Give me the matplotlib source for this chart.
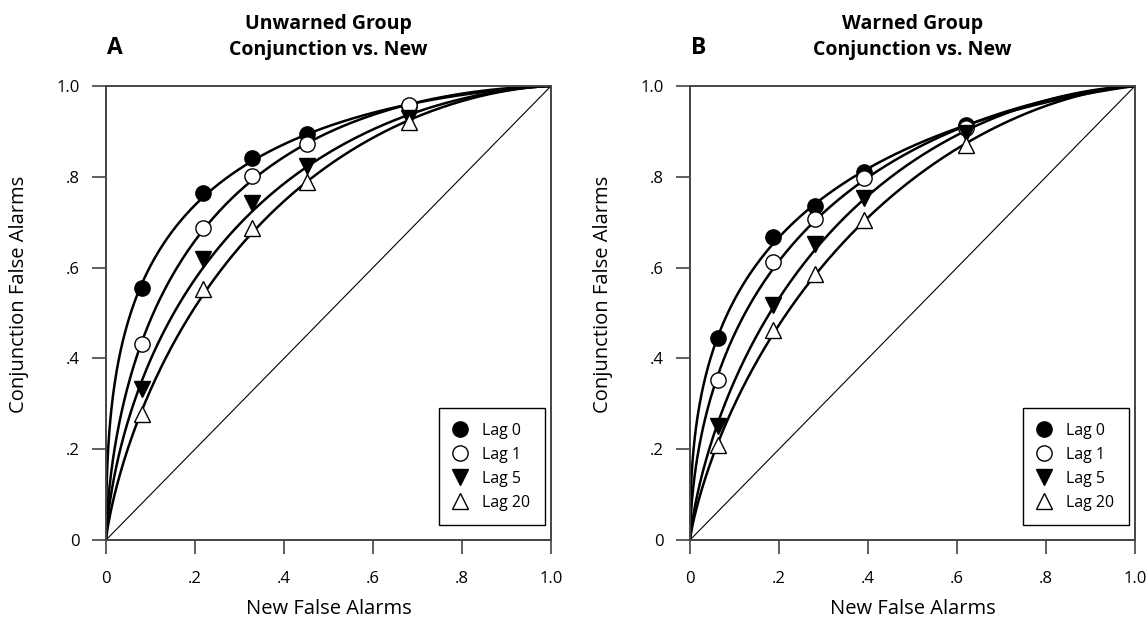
import matplotlib
matplotlib.use("Agg")
import matplotlib.pyplot as plt
import numpy as np
from statistics import NormalDist

plt.rcParams['font.family'] = ['Open Sans', 'DejaVu Sans']

# ---- data ----
lags = ["Lag 0", "Lag 1", "Lag 5", "Lag 20"]

# Panel A: Unwarned group
new_fa_A = [0.082, 0.219, 0.329, 0.451, 0.680]
conj_fa_A_lag0 = [0.554, 0.765, 0.841, 0.895, 0.957]
conj_fa_A_lag1 = [0.432, 0.688, 0.802, 0.872, 0.958]
conj_fa_A_lag5 = [0.332, 0.618, 0.743, 0.824, 0.930]
conj_fa_A_lag20 = [0.278, 0.552, 0.687, 0.789, 0.921]

# Panel B: Warned group
new_fa_B = [0.064, 0.186, 0.280, 0.391, 0.620]
conj_fa_B_lag0 = [0.444, 0.667, 0.736, 0.811, 0.913]
conj_fa_B_lag1 = [0.352, 0.613, 0.706, 0.798, 0.907]
conj_fa_B_lag5 = [0.251, 0.518, 0.653, 0.753, 0.896]
conj_fa_B_lag20 = [0.209, 0.463, 0.587, 0.705, 0.869]

tick_vals = [0, 0.2, 0.4, 0.6, 0.8, 1.0]
tick_labels = ["0", ".2", ".4", ".6", ".8", "1.0"]

titles = ["Unwarned Group\nConjunction vs. New", "Warned Group\nConjunction vs. New"]
panel_letters = ["A", "B"]

markers = ['o', 'o', 'v', '^']
faces = ['black', 'white', 'black', 'white']

nd = NormalDist()


def zroc_fit(xs, ys):
    zx = np.array([nd.inv_cdf(v) for v in xs])
    zy = np.array([nd.inv_cdf(v) for v in ys])
    b, a = np.polyfit(zx, zy, 1)
    return a, b


def zroc_curve(a, b, n=400):
    xs = np.concatenate([np.geomspace(1e-6, 0.05, 150), np.linspace(0.05, 1 - 1e-6, n)])
    ys = np.array([nd.cdf(a + b * nd.inv_cdf(v)) for v in xs])
    xs = np.concatenate([[0], xs, [1]])
    ys = np.concatenate([[0], ys, [1]])
    return xs, ys


fig = plt.figure(figsize=(11.48, 6.33), dpi=100)
ax_w = 445 / 1148
ax_h = 454 / 633
axA = fig.add_axes([106 / 1148, 93 / 633, ax_w, ax_h])
axB = fig.add_axes([690 / 1148, 93 / 633, ax_w, ax_h])

panels = [
    (axA, new_fa_A, [conj_fa_A_lag0, conj_fa_A_lag1, conj_fa_A_lag5, conj_fa_A_lag20]),
    (axB, new_fa_B, [conj_fa_B_lag0, conj_fa_B_lag1, conj_fa_B_lag5, conj_fa_B_lag20]),
]

for i, (ax, xs, series) in enumerate(panels):
    ax.plot([0, 1], [0, 1], color='black', lw=0.8, zorder=1)
    for ys in series:
        a, b = zroc_fit(xs, ys)
        cx, cy = zroc_curve(a, b)
        ax.plot(cx, cy, color='black', lw=1.8, zorder=2)
    for j, ys in enumerate(series):
        ax.plot(xs, ys, linestyle='none', marker=markers[j], markersize=11,
                markerfacecolor=faces[j], markeredgecolor='black', markeredgewidth=1.0,
                label=lags[j], zorder=3, clip_on=False)
    ax.set_xlim(0, 1)
    ax.set_ylim(0, 1)
    ax.set_xticks(tick_vals)
    ax.set_xticklabels(tick_labels)
    ax.set_yticks(tick_vals)
    ax.set_yticklabels(tick_labels)
    ax.tick_params(axis='both', direction='out', length=10, width=1.2, labelsize=12,
                   color='#444444')
    ax.tick_params(axis='x', pad=12)
    ax.tick_params(axis='y', pad=9)
    for sp in ax.spines.values():
        sp.set_color('#444444')
        sp.set_linewidth(1.4)
    ax.set_xlabel("New False Alarms", fontsize=14.5)
    ax.xaxis.set_label_coords(0.5, -0.13)
    ax.set_ylabel("Conjunction False Alarms", fontsize=14.5)
    ax.yaxis.set_label_coords(-0.172, 0.54)
    ax.set_title(titles[i], fontsize=14, fontweight='bold', pad=22, linespacing=1.4)
    ax.text(0.003, 1.083, panel_letters[i], transform=ax.transAxes, fontsize=16.5,
            fontweight='bold', ha='left', va='center')
    leg = ax.legend(loc='lower right', bbox_to_anchor=(0.9865, 0.033), borderaxespad=0,
                    fontsize=11.5, frameon=True, fancybox=False, edgecolor='black',
                    framealpha=1, handletextpad=1.0, labelspacing=0.5, borderpad=0.9,
                    handlelength=0.8)
    leg.get_frame().set_linewidth(1.0)

fig.savefig("out.png", dpi=100)
